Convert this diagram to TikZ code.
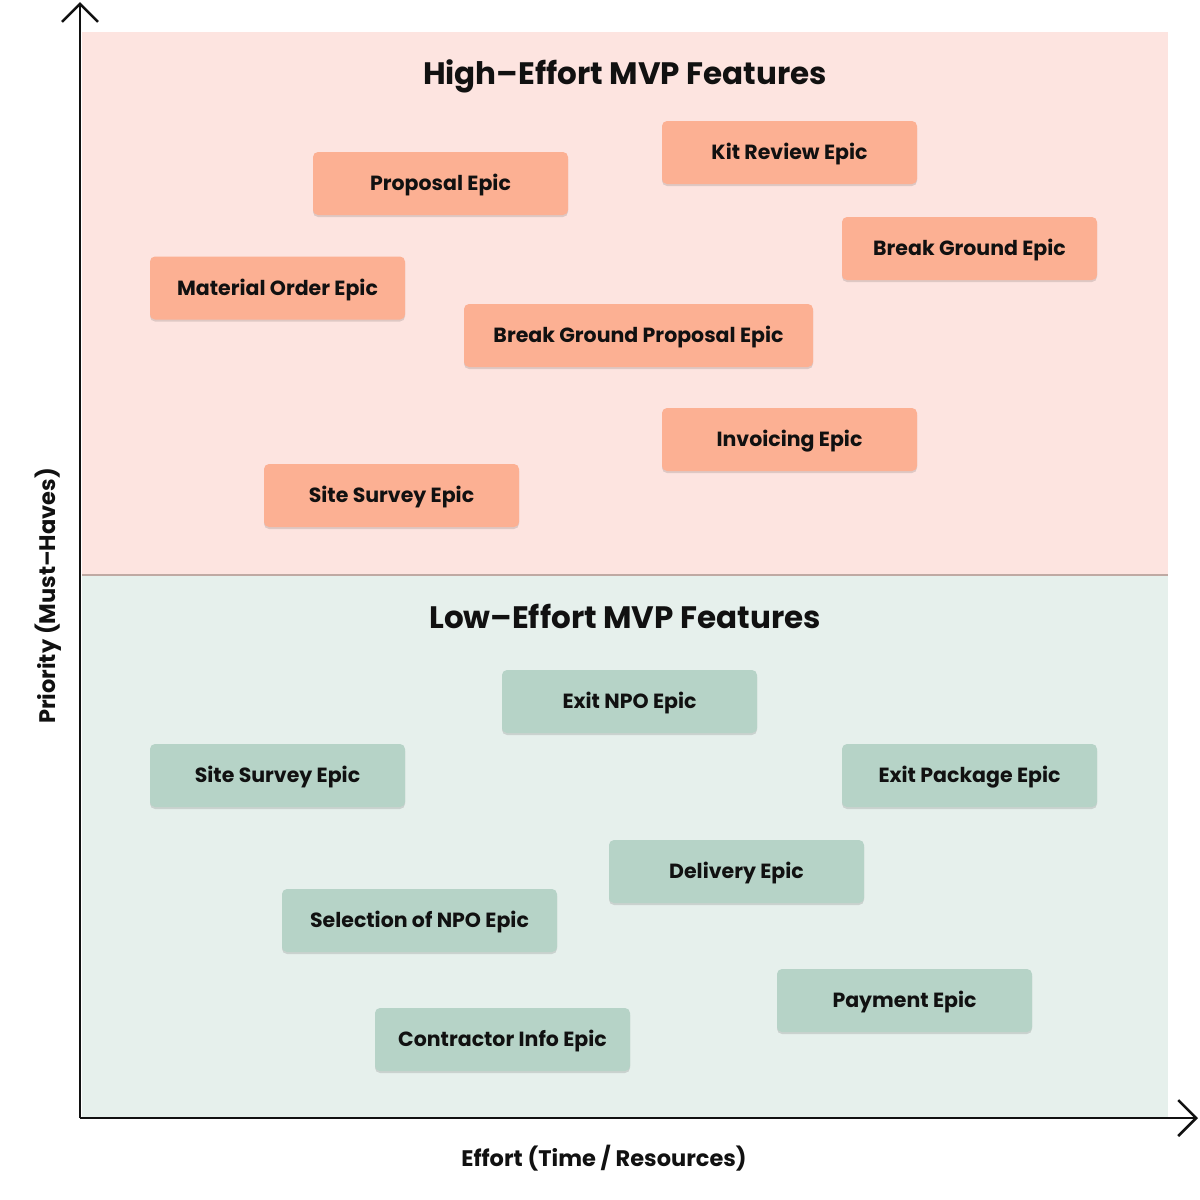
\documentclass[tikz,border=0pt]{standalone}
\usepackage{fontspec}
\setmainfont{Poppins}
\usetikzlibrary{arrows.meta,shadows}
\definecolor{hibg}{HTML}{FDE4E0}
\definecolor{lobg}{HTML}{E6F0EC}
\definecolor{hibox}{HTML}{FCB093}
\definecolor{lobox}{HTML}{B6D3C7}
\definecolor{divider}{HTML}{BFA9A3}
\definecolor{ink}{HTML}{111111}
\tikzset{
  epic/.style={rounded corners=5pt, minimum height=63pt, minimum width=255pt,
    inner sep=0pt, font=\fontsize{20.5}{22}\selectfont\bfseries, text=ink,
    text height=14.5pt, text depth=0pt,
    drop shadow={shadow xshift=0pt, shadow yshift=-2pt, opacity=0.12, fill=black}},
  hiepic/.style={epic, fill=hibox},
  loepic/.style={epic, fill=lobox},
  quadtitle/.style={font=\fontsize{31}{34}\selectfont\bfseries, text=ink,
    text height=22pt, text depth=0pt, inner sep=0pt},
  axislabel/.style={font=\fontsize{22.5}{25}\selectfont\bfseries, text=ink,
    text height=16pt, text depth=0pt, inner sep=0pt},
  axisline/.style={line width=2.5pt, ink, -{Straight Barb[length=18pt, width=36pt, line width=2.5pt]}}
}
\begin{document}
\begin{tikzpicture}[x=1pt, y=-1pt]
\useasboundingbox (0,0) rectangle (1200,1200);
\fill[white] (0,0) rectangle (1200,1200);
% quadrants
\fill[hibg] (82,32) rectangle (1168,575);
\fill[lobg] (82,575) rectangle (1168,1118);
\draw[divider, line width=1.2pt] (82,575) -- (1168,575);
% titles
\node[quadtitle] (hititle) at (625,73) {High–Effort MVP Features};
\node[quadtitle] (lotitle) at (625,617) {Low–Effort MVP Features};
% high-effort epics
\node[hiepic] (kit) at (789.5,152.5) {Kit Review Epic};
\node[hiepic] (prop) at (440.5,183.5) {Proposal Epic};
\node[hiepic] (bg) at (969.5,248.5) {Break Ground Epic};
\node[hiepic] (mat) at (277.5,288) {Material Order Epic};
\node[hiepic, minimum width=349pt] (bgp) at (638.5,335.5) {Break Ground Proposal Epic};
\node[hiepic] (inv) at (789.5,439.5) {Invoicing Epic};
\node[hiepic] (ss1) at (391.5,495.5) {Site Survey Epic};
% low-effort epics
\node[loepic] (exnpo) at (629.5,701.5) {Exit NPO Epic};
\node[loepic] (ss2) at (277.5,775.5) {Site Survey Epic};
\node[loepic] (expkg) at (969.5,775.5) {Exit Package Epic};
\node[loepic] (del) at (736.5,871.5) {Delivery Epic};
\node[loepic, minimum width=275pt] (sel) at (419.5,920.5) {Selection of NPO Epic};
\node[loepic] (pay) at (904.5,1000.5) {Payment Epic};
\node[loepic] (con) at (502.5,1039.5) {Contractor Info Epic};
% axes
\coordinate (O) at (80,1118);
\coordinate (ytip) at (80,2);
\coordinate (xtip) at (1198,1118);
\draw[axisline] (O) -- (ytip);
\draw[axisline] (O) -- (xtip);
\node[axislabel] (xlab) at (604,1158) {Effort (Time / Resources)};
\node[axislabel, rotate=90] (ylab) at (47,596) {Priority (Must–Haves)};
\end{tikzpicture}
\end{document}
